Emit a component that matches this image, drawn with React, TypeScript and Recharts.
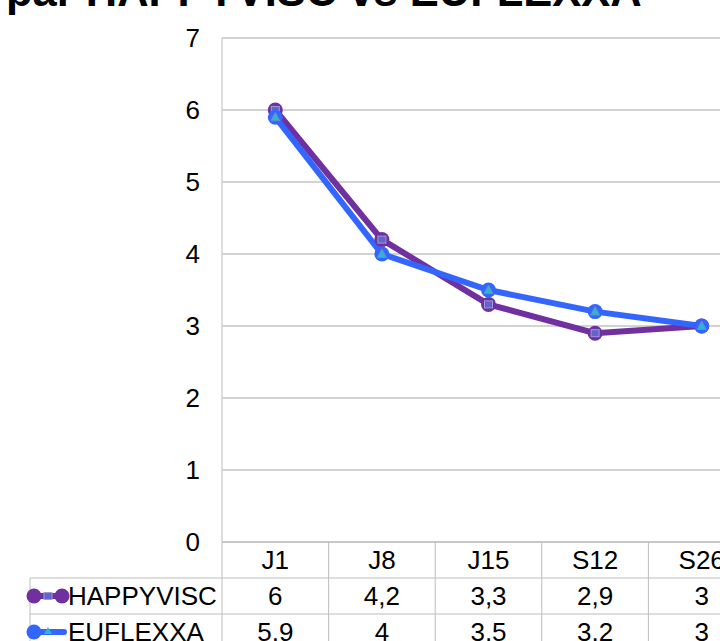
import { LineChart, Line, XAxis, YAxis, CartesianGrid } from "recharts";

const categories = ["J1", "J8", "J15", "S12", "S26"];
const happyvisc = [6, 4.2, 3.3, 2.9, 3];
const euflexxa = [5.9, 4, 3.5, 3.2, 3];
const yTicks = [0, 1, 2, 3, 4, 5, 6, 7];
const seriesNames = ["HAPPYVISC", "EUFLEXXA"];
const title = "par HAPPYVISC vs EUFLEXXA";

const purple = "#7030A0";
const blue = "#3366FF";
const gridColor = "#A6A6A6";
const tableColor = "#BDBDBD";
const font = "Liberation Sans, Arial, sans-serif";

const chartW = 760;
const chartH = 680;
const plotLeft = 222;
const plotTop = 38;
const plotRight = 5;
const band = (chartW - plotLeft - plotRight) / categories.length;
const rowH = 36;

const data = categories.map((c, i) => ({ cat: c, happy: happyvisc[i], eufl: euflexxa[i] }));

const fmt = (v: number) => String(v).replace(".", ",");

function HappyDot(props: any) {
  const { cx, cy } = props;
  if (cx == null || cy == null) return null;
  return (
    <g>
      <circle cx={cx} cy={cy} r={7.5} fill={purple} />
      <rect x={cx - 4} y={cy - 3.5} width={8} height={7} fill="#6464C8" stroke="#9A9AE0" strokeWidth={1} />
    </g>
  );
}

function EuflDot(props: any) {
  const { cx, cy } = props;
  if (cx == null || cy == null) return null;
  return (
    <g>
      <circle cx={cx} cy={cy} r={7.5} fill={blue} />
      <polygon
        points={`${cx},${cy - 5} ${cx + 4.5},${cy + 3.5} ${cx - 4.5},${cy + 3.5}`}
        fill="#2FB4D8"
        stroke="#7A8AB0"
        strokeWidth={0.8}
      />
    </g>
  );
}

function TableTick(props: any) {
  const { x, y, payload } = props;
  const i = payload.index;
  const left = x - band / 2;
  const right = x + band / 2;
  const bottom = y + rowH * 3 + 20;
  return (
    <g fontFamily={font} fontSize={26} fill="#000">
      <line x1={right} y1={y} x2={right} y2={bottom} stroke={tableColor} />
      {i === 0 && <line x1={left} y1={y} x2={left} y2={bottom} stroke={tableColor} />}
      {[1, 2, 3].map((r) => (
        <line key={r} x1={left} y1={y + rowH * r} x2={right} y2={y + rowH * r} stroke={tableColor} />
      ))}
      <text x={x} y={y + rowH / 2} textAnchor="middle" dominantBaseline="central">
        {payload.value}
      </text>
      <text x={x} y={y + rowH * 1.5} textAnchor="middle" dominantBaseline="central">
        {fmt(happyvisc[i])}
      </text>
      <text x={x} y={y + rowH * 2.5} textAnchor="middle" dominantBaseline="central">
        {fmt(euflexxa[i])}
      </text>
      {i === 0 && (
        <g>
          <line x1={30} y1={y + rowH} x2={30} y2={bottom} stroke={tableColor} />
          {[1, 2, 3].map((r) => (
            <line key={r} x1={30} y1={y + rowH * r} x2={left} y2={y + rowH * r} stroke={tableColor} />
          ))}
          <line x1={34} y1={y + rowH * 1.5} x2={62} y2={y + rowH * 1.5} stroke={purple} strokeWidth={6} />
          <circle cx={34} cy={y + rowH * 1.5} r={7.5} fill={purple} />
          <circle cx={62} cy={y + rowH * 1.5} r={7.5} fill={purple} />
          <rect x={44} y={y + rowH * 1.5 - 3.5} width={8} height={7} fill="#6464C8" stroke="#9A9AE0" />
          <line x1={34} y1={y + rowH * 2.5} x2={64} y2={y + rowH * 2.5} stroke={blue} strokeWidth={6} strokeLinecap="round" />
          <circle cx={34} cy={y + rowH * 2.5} r={7.5} fill={blue} />
          <polygon
            points={`48,${y + rowH * 2.5 - 5} 52,${y + rowH * 2.5 + 2} 44,${y + rowH * 2.5 + 2}`}
            fill="#2FB4D8"
          />
          <text x={68} y={y + rowH * 1.5} dominantBaseline="central">{seriesNames[0]}</text>
          <text x={68} y={y + rowH * 2.5} dominantBaseline="central">{seriesNames[1]}</text>
        </g>
      )}
    </g>
  );
}

export default function App() {
  return (
    <div
      style={{
        position: "absolute",
        left: 0,
        top: 0,
        width: 720,
        height: 641,
        overflow: "hidden",
        background: "#fff",
      }}
    >
      <svg width={720} height={20} style={{ position: "absolute", left: 0, top: 0 }}>
        <text x={6} y={6} fontFamily={font} fontWeight="bold" fontSize={43.5} fill="#000">
          {title}
        </text>
      </svg>
      <div style={{ position: "absolute", left: 0, top: 0 }}>
        <LineChart
          width={chartW}
          height={chartH}
          data={data}
          margin={{ top: plotTop, right: plotRight, bottom: 0, left: 0 }}
        >
          <CartesianGrid vertical={false} stroke={gridColor} />
          <XAxis
            dataKey="cat"
            height={chartH - plotTop - 504}
            axisLine={{ stroke: tableColor }}
            tickLine={false}
            tickSize={0}
            tickMargin={0}
            interval={0}
            padding={{ left: band / 2, right: band / 2 }}
            tick={<TableTick />}
          />
          <YAxis
            width={plotLeft}
            domain={[0, 7]}
            ticks={yTicks}
            axisLine={{ stroke: tableColor }}
            tickLine={false}
            tickSize={0}
            tickMargin={22}
            tick={{ fontFamily: font, fontSize: 26, fill: "#000" }}
          />
          <Line
            dataKey="happy"
            stroke={purple}
            strokeWidth={6}
            dot={<HappyDot />}
            activeDot={false}
            isAnimationActive={false}
          />
          <Line
            dataKey="eufl"
            stroke={blue}
            strokeWidth={6}
            dot={<EuflDot />}
            activeDot={false}
            isAnimationActive={false}
          />
        </LineChart>
      </div>
    </div>
  );
}
